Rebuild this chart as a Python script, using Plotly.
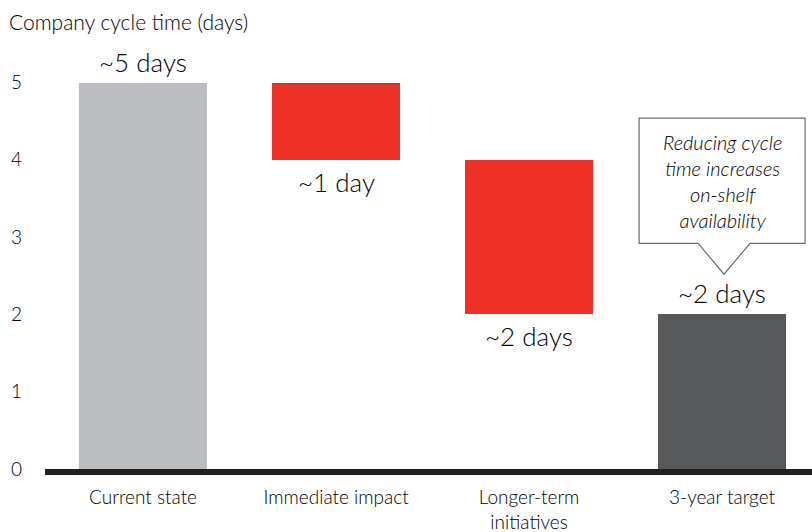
import plotly.graph_objects as go

categories = ["Current state", "Immediate impact", "Longer-term<br>initiatives", "3-year target"]
bar_values = [5, 1, 2, 2]
bar_bases = [0, 4, 2, 0]
bar_labels = ["~5 days", "~1 day", "~2 days", "~2 days"]
label_side = ["above", "below", "below", "above"]
bar_colors = ["#BCBDC0", "#EE3024", "#EE3024", "#58595B"]
y_ticks = [0, 1, 2, 3, 4, 5]
callout_text = "<i>Reducing cycle<br>time increases<br>on-shelf<br>availability</i>"

FONT = "Lato"
TXT = "#000000"
W = 300

x_idx = list(range(len(categories)))

fig = go.Figure()
fig.add_trace(go.Bar(
    x=x_idx, y=bar_values, base=bar_bases,
    marker=dict(color=bar_colors, line=dict(width=0)),
    width=0.66, hoverinfo="skip", showlegend=False,
))

annotations = []
for i, (lab, side) in enumerate(zip(bar_labels, label_side)):
    top = bar_bases[i] + bar_values[i]
    if side == "above":
        annotations.append(dict(x=i, y=top, xref="x", yref="y", text=lab, showarrow=False,
                                yanchor="bottom", yshift=3,
                                font=dict(size=26, color=TXT, family=FONT, weight=W)))
    else:
        annotations.append(dict(x=i, y=bar_bases[i], xref="x", yref="y", text=lab, showarrow=False,
                                yanchor="top", yshift=-4,
                                font=dict(size=26, color=TXT, family=FONT, weight=W)))

annotations.append(dict(x=0, y=1, xref="paper", yref="paper", xanchor="left", yanchor="bottom",
                        xshift=-38, yshift=4, text="Company cycle time (days)", showarrow=False,
                        font=dict(size=21, color=TXT, family=FONT, weight=W)))

# callout
bx0, bx1, by0, by1 = 2.57, 3.43, 2.92, 4.54
px0, px1, tipx, tipy = 2.876, 3.145, 3.01, 2.52
path = (f"M {bx0},{by0} L {px0},{by0} L {tipx},{tipy} L {px1},{by0} L {bx1},{by0} "
        f"L {bx1},{by1} L {bx0},{by1} Z")
shapes = [dict(type="path", path=path, xref="x", yref="y",
               line=dict(color="#6D6E71", width=1.2), fillcolor="white")]
annotations.append(dict(x=3.0, y=(by0 + by1) / 2, xref="x", yref="y", text=callout_text,
                        showarrow=False, align="center",
                        font=dict(size=20, color=TXT, family=FONT, weight=W)))

fig.update_layout(
    width=812, height=532,
    margin=dict(l=45, r=0, t=40, b=63),
    paper_bgcolor="white", plot_bgcolor="white",
    bargap=0,
    shapes=shapes,
    annotations=annotations,
    xaxis=dict(range=[-0.508, 3.466], tickmode="array", tickvals=x_idx, ticktext=categories,
               showgrid=False, zeroline=False, showline=True, linecolor="#231F20", linewidth=6,
               ticks="", ticklabelstandoff=6,
               tickfont=dict(size=19, color=TXT, family=FONT, weight=W), fixedrange=True),
    yaxis=dict(range=[0, 5.55], tickmode="array", tickvals=y_ticks, showgrid=False, zeroline=False,
               showline=False, ticks="", ticklabelstandoff=22,
               tickfont=dict(size=19, color=TXT, family=FONT, weight=W), fixedrange=True),
)

fig.write_html("out.html", config={"displayModeBar": False},
               post_script="document.body.style.margin='0';")
